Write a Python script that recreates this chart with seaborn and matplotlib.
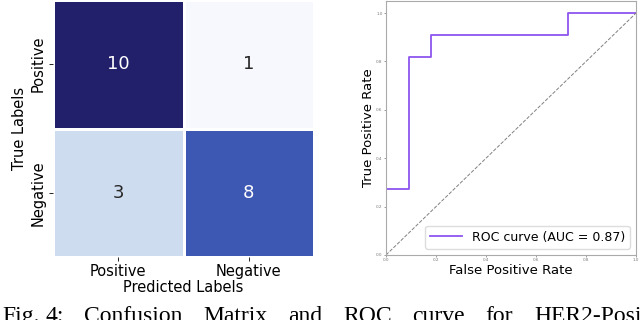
import numpy as np
import pandas as pd
import matplotlib
matplotlib.use("Agg")
import matplotlib.pyplot as plt
import seaborn as sns
from matplotlib.colors import LinearSegmentedColormap

# confusion matrix
labels = ["Positive", "Negative"]
cm_values = [[10, 1],
             [3, 8]]

# roc curve (step points)
fpr = [0.0, 0.0, 0.0909, 0.0909, 0.1818, 0.1818, 0.7273, 0.7273, 1.0]
tpr = [0.0, 0.2727, 0.2727, 0.8182, 0.8182, 0.9091, 0.9091, 1.0, 1.0]
auc_value = 0.87

caption_words = ["Fig.", "4:", "Confusion", "Matrix", "and", "ROC", "curve", "for", "HER2-Positive"]
caption_x = [2, 46, 84, 203, 288, 343, 412, 485, 534]

cm = pd.DataFrame(cm_values, index=labels, columns=labels)
cmap = LinearSegmentedColormap.from_list(
    "cm", [(0.0, "#f7f8fd"), (0.222, "#cedcf0"), (0.778, "#3d59b3"), (1.0, "#221f6b")])

fig = plt.figure(figsize=(6.4, 3.2), dpi=100)

ax1 = fig.add_axes([53 / 640, 1 - 257 / 320, 261 / 640, 257 / 320])
sns.heatmap(cm, annot=True, fmt="d", cmap=cmap, cbar=False, linewidths=0.8,
            linecolor="white", annot_kws={"fontsize": 13}, ax=ax1)
ax1.set_xlabel("Predicted Labels", fontsize=10.5, labelpad=1)
ax1.set_ylabel("True Labels", fontsize=10.5, labelpad=3)
ax1.tick_params(axis="both", labelsize=10.5, length=3, width=0.6, pad=2)
ax1.set_yticklabels(labels, rotation=90, va="center")

ax2 = fig.add_axes([386 / 640, 1 - 255 / 320, 250 / 640, 254 / 320])
sns.lineplot(x=fpr, y=tpr, sort=False, estimator=None, color="#8e55f0", lw=1.3,
             label=f"ROC curve (AUC = {auc_value:.2f})", ax=ax2)
sns.lineplot(x=[0, 1], y=[0, 1], color="gray", lw=0.7, linestyle="--", ax=ax2)
ax2.set_xlim(0, 1)
ax2.set_ylim(0, 1.05)
ax2.set_xlabel("False Positive Rate", fontsize=9.5, labelpad=1)
ax2.set_ylabel("True Positive Rate", fontsize=9.5, labelpad=1)
ax2.tick_params(axis="both", labelsize=3, length=1.5, width=0.5, pad=1, colors="#777")
for s in ax2.spines.values():
    s.set_color("#aaa")
    s.set_linewidth(0.8)
ax2.legend(loc="lower right", fontsize=9, handlelength=2.5, framealpha=1,
           edgecolor="#ddd", borderpad=0.4)

for word, x in zip(caption_words, caption_x):
    fig.text(x / 640, 1 - 306 / 320, word, fontsize=17, family="Liberation Serif",
             va="top", ha="left")

fig.savefig("out.png", dpi=100)
